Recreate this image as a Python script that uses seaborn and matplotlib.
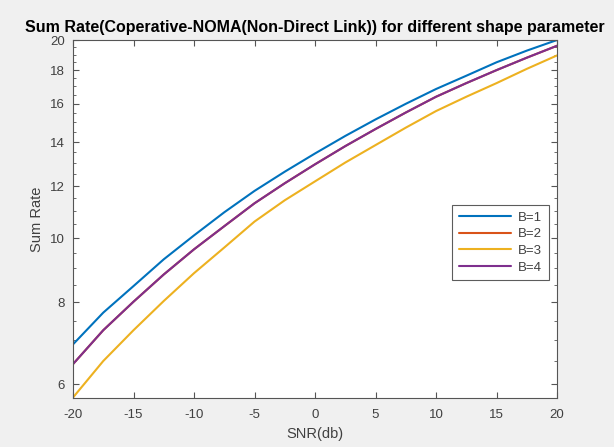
import matplotlib
matplotlib.use("Agg")
import matplotlib.pyplot as plt
import matplotlib.ticker as mticker
import seaborn as sns
import pandas as pd

snr = [-20, -17.5, -15, -12.5, -10, -7.5, -5, -2.5, 0, 2.5, 5, 7.5, 10, 12.5, 15, 17.5, 20]
b1 = [6.90, 7.71, 8.46, 9.29, 10.1, 10.95, 11.8, 12.62, 13.45, 14.3, 15.15,
      16.0, 16.85, 17.65, 18.5, 19.27, 20.0]
b2 = [6.44, 7.25, 8.01, 8.81, 9.62, 10.43, 11.3, 12.12, 12.95, 13.8, 14.65,
      15.52, 16.4, 17.2, 18.0, 18.8, 19.6]
b3 = [5.73, 6.51, 7.25, 8.03, 8.85, 9.68, 10.6, 11.42, 12.2, 13.03, 13.85,
      14.72, 15.6, 16.4, 17.2, 18.08, 18.95]
b4 = [6.44, 7.25, 8.01, 8.81, 9.62, 10.43, 11.3, 12.12, 12.95, 13.8, 14.65,
      15.52, 16.4, 17.2, 18.0, 18.8, 19.6]
labels = ["B=1", "B=2", "B=3", "B=4"]
yticks = [6, 8, 10, 12, 14, 16, 18, 20]
xticks = [-20, -15, -10, -5, 0, 5, 10, 15, 20]

rows = []
for lab, vals in zip(labels, [b1, b2, b3, b4]):
    for s, v in zip(snr, vals):
        rows.append({"SNR": s, "Rate": v, "B": lab})
df = pd.DataFrame(rows)

sns.set_style("ticks")
plt.rcParams["font.family"] = ["Liberation Sans", "DejaVu Sans"]
plt.rcParams["axes.unicode_minus"] = False

fig = plt.figure(figsize=(6.14, 4.47), dpi=100, facecolor="#F0F0F0")
ax = fig.add_axes([0.1189, 0.1096, 0.7883, 0.8009])
ax.set_facecolor("white")

palette = {"B=1": "#0072BD", "B=2": "#D95319", "B=3": "#EDB120", "B=4": "#7E2F8E"}
sns.lineplot(data=df, x="SNR", y="Rate", hue="B", hue_order=labels,
             palette=palette, linewidth=1.5, ax=ax, legend=True)

ax.set_yscale("log")
ax.set_xlim(-20, 20)
ax.set_ylim(5.72, 20.0)
ax.set_xticks(xticks)
ax.set_xticklabels([str(t) for t in xticks])
ax.set_yticks(yticks)
ax.yaxis.set_major_formatter(mticker.FixedFormatter([str(t) for t in yticks]))
ax.yaxis.set_minor_locator(mticker.FixedLocator(
    [v / 2 for v in range(12, 41) if v % 4 != 0]))
ax.yaxis.set_minor_formatter(mticker.NullFormatter())

tc = "#404040"
for sp in ax.spines.values():
    sp.set_visible(True)
    sp.set_color("#555555")
    sp.set_linewidth(0.8)
ax.tick_params(axis="both", which="both", direction="in", top=True, right=True,
               colors="#555555", labelcolor=tc, labelsize=9.5)
ax.tick_params(which="major", length=4)
ax.tick_params(which="minor", length=2)
ax.tick_params(axis="x", which="both", pad=8)
ax.tick_params(axis="y", which="both", pad=6)

ax.set_xlabel("SNR(db)", fontsize=10.5, color=tc, labelpad=4)
ax.set_ylabel("Sum Rate", fontsize=10.5, color=tc, labelpad=4)
ax.set_title("Sum Rate(Coperative-NOMA(Non-Direct Link)) for different shape parameter",
             fontsize=11.5, fontweight="bold", color="black", pad=6)

leg = ax.legend(loc="upper left", bbox_to_anchor=(0.783, 0.539), fontsize=9.5,
                frameon=True, fancybox=False, handlelength=4.0, borderaxespad=0,
                borderpad=0.5, labelspacing=0.33, handletextpad=0.5)
leg.get_frame().set_edgecolor("#333333")
leg.get_frame().set_linewidth(0.8)
for t in leg.get_texts():
    t.set_color(tc)

fig.savefig("out.png", dpi=100, facecolor=fig.get_facecolor())
